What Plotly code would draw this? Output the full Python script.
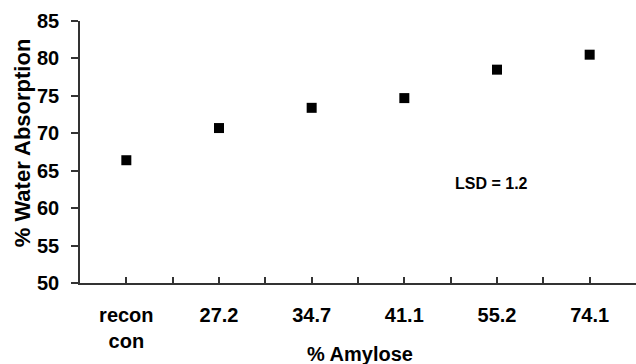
import plotly.graph_objects as go

categories = ["recon<br>con", "27.2", "34.7", "41.1", "55.2", "74.1"]
water_absorption = [66.4, 70.7, 73.4, 74.7, 78.5, 80.5]
y_ticks = [50, 55, 60, 65, 70, 75, 80, 85]
lsd_text = "LSD = 1.2"
x_title = "% Amylose"
y_title = "% Water Absorption"

positions = [i + 0.5 for i in range(len(categories))]
boundaries = list(range(len(categories) + 1))

FONT = "Liberation Sans, Arial, sans-serif"

fig = go.Figure(
    go.Scatter(
        x=positions,
        y=water_absorption,
        mode="markers",
        marker=dict(symbol="square", size=10, color="black"),
        showlegend=False,
    )
)

fig.update_layout(
    width=636,
    height=364,
    margin=dict(l=80, r=0, t=21, b=81),
    paper_bgcolor="white",
    plot_bgcolor="white",
    font=dict(family=FONT, color="black"),
)

fig.update_xaxes(
    range=[0, len(categories)],
    tickvals=positions,
    ticktext=categories,
    ticks="inside",
    ticklen=6,
    tickwidth=1.5,
    tickcolor="#333",
    showline=True,
    linecolor="#333",
    linewidth=1.5,
    showgrid=False,
    zeroline=False,
    tickfont=dict(size=20, weight="bold"),
    ticklabelstandoff=13,
    minor=dict(tickvals=boundaries, ticks="inside", ticklen=6, tickwidth=1.5, tickcolor="#333", showgrid=False),
)

fig.update_yaxes(
    range=[50, 85],
    tickvals=y_ticks,
    ticks="outside",
    ticklen=7,
    tickwidth=1.5,
    tickcolor="#333",
    showline=True,
    linecolor="#333",
    linewidth=1.5,
    showgrid=False,
    zeroline=False,
    tickfont=dict(size=20, weight="bold"),
    ticklabelstandoff=8,
)

fig.add_annotation(
    x=0.503, y=-0.272, xref="paper", yref="paper",
    xanchor="center", yanchor="middle",
    text=x_title, showarrow=False,
    font=dict(size=20, weight="bold", family=FONT),
)

fig.add_annotation(
    x=-0.104, y=0.534, xref="paper", yref="paper",
    xanchor="center", yanchor="middle", textangle=-90,
    text=y_title, showarrow=False,
    font=dict(size=22, weight="bold", family=FONT),
)

fig.add_annotation(
    x=4.44, y=63.3, xref="x", yref="y",
    text=lsd_text, showarrow=False,
    font=dict(size=16, weight="bold", family=FONT),
)

fig.write_html(
    "out.html",
    config={"displayModeBar": False},
    post_script="document.body.style.margin='0';document.body.style.overflow='hidden';",
)
